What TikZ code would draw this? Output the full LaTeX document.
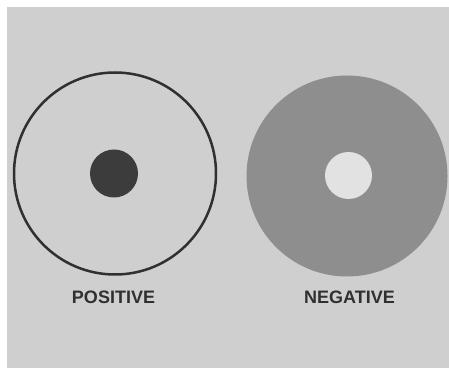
\documentclass[tikz,border=0pt]{standalone}
\usepackage{fontspec}
\setmainfont{Liberation Sans}
\definecolor{paper}{HTML}{CFCFCF}
\definecolor{ink}{HTML}{303030}
\definecolor{diskgray}{HTML}{8E8E8E}
\definecolor{holegray}{HTML}{E2E2E2}
\definecolor{dotgray}{HTML}{3C3C3C}
\tikzset{
  label text/.style={font=\bfseries\fontsize{18}{18}\selectfont, text=ink, inner sep=0pt},
  round/.style={circle, inner sep=0pt, outer sep=0pt}
}
\begin{document}
\begin{tikzpicture}[x=1pt,y=1pt]
\useasboundingbox (0,0) rectangle (449,377);
\fill[white] (0,0) rectangle (449,377);
\fill[paper] (7,9) rectangle (449,370);
% positive
\node[round, draw=ink, line width=2.5pt, minimum size=202pt] (ring) at (115,203.5) {};
\node[round, fill=dotgray, minimum size=48pt] (dot) at (114,203.5) {};
% negative
\node[round, fill=diskgray, minimum size=201pt] (disk) at (347,201) {};
\node[round, fill=holegray, minimum size=47pt] (hole) at (348.5,201.5) {};
% labels
\node[label text] (pos) at (113.5,80) {POSITIVE};
\node[label text] (neg) at (349.5,80) {NEGATIVE};
\end{tikzpicture}
\end{document}
